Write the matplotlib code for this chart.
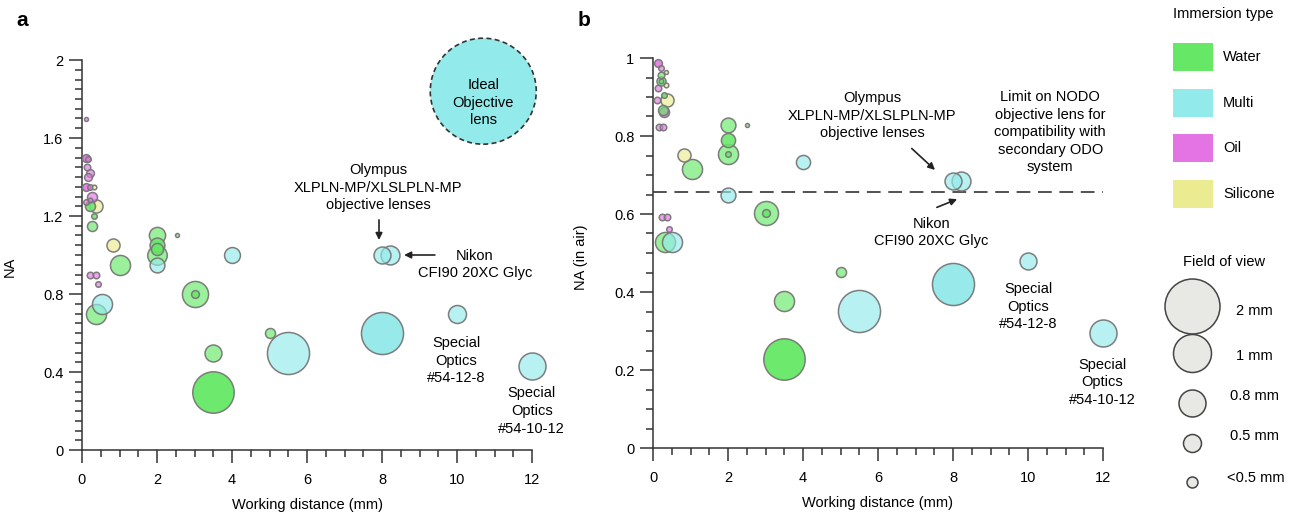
import numpy as np
import matplotlib
matplotlib.use('Agg')
import matplotlib.pyplot as plt
from matplotlib.colors import to_rgba
from matplotlib.patches import Rectangle

plt.rcParams['font.family'] = ['Liberation Sans', 'DejaVu Sans']
plt.rcParams['font.size'] = 10.5

colors = {'W': '#66e866', 'M': '#93eaea', 'O': '#e474e4', 'S': '#ebeb91'}
immersion_names = ['Water', 'Multi', 'Oil', 'Silicone']
immersion_keys = ['W', 'M', 'O', 'S']

# panel a: working distance (mm), NA, field of view (mm), immersion, number of lenses
wd_a = [0.1, 0.1, 0.15, 0.12, 0.2, 0.15, 0.1, 0.2, 0.33, 0.26,
        0.2, 0.37, 0.2, 0.1, 0.33, 0.27, 0.82, 1.0, 2.0, 2.0,
        2.0, 2.0, 2.0, 2.52, 4.0, 0.2, 0.37, 0.42, 0.36, 0.52,
        3.0, 3.0, 3.5, 3.5, 5.0, 5.5, 8.0, 8.0, 8.2, 10.0, 12.0]
na_a = [1.70, 1.50, 1.49, 1.45, 1.42, 1.40, 1.35, 1.35, 1.35, 1.30,
        1.28, 1.25, 1.25, 1.27, 1.20, 1.15, 1.05, 0.95, 1.10, 1.05,
        1.03, 1.00, 0.95, 1.10, 1.00, 0.90, 0.90, 0.85, 0.70, 0.75,
        0.80, 0.80, 0.50, 0.30, 0.60, 0.50, 0.60, 1.00, 1.00, 0.70, 0.43]
fov_a = [0.08, 0.2, 0.13, 0.16, 0.2, 0.2, 0.2, 0.13, 0.1, 0.27,
         0.1, 0.36, 0.27, 0.13, 0.13, 0.27, 0.36, 0.57, 0.45, 0.41,
         0.33, 0.55, 0.41, 0.08, 0.44, 0.16, 0.16, 0.13, 0.57, 0.57,
         0.77, 0.2, 0.47, 1.2, 0.27, 1.24, 1.24, 0.47, 0.53, 0.5, 0.8]
imm_a = ['O', 'O', 'O', 'O', 'O', 'O', 'O', 'O', 'S', 'O',
         'O', 'S', 'W', 'O', 'W', 'W', 'S', 'W', 'W', 'W',
         'W', 'W', 'M', 'W', 'M', 'O', 'O', 'O', 'W', 'M',
         'W', 'W', 'W', 'W', 'W', 'M', 'M', 'M', 'M', 'M', 'M']
n_a = [1, 2, 1, 1, 1, 1, 2, 1, 1, 1,
       1, 1, 2, 1, 2, 1, 1, 1, 1, 2,
       2, 1, 1, 1, 1, 1, 1, 1, 1, 1,
       1, 2, 1, 3, 1, 1, 3, 1, 1, 1, 1]

# panel b: NA converted to air
wd_b = [0.14, 0.2, 0.34, 0.2, 0.22, 0.22, 0.34, 0.14, 0.38, 0.28,
        0.1, 0.28, 0.26, 0.15, 0.26, 2.0, 2.0, 2.0, 2.0, 2.5,
        0.83, 1.03, 4.0, 2.0, 3.0, 3.0, 0.23, 0.38, 0.42, 0.32,
        0.5, 5.0, 3.5, 3.5, 5.5, 8.0, 8.0, 8.2, 10.0, 12.0]
na_b = [0.986, 0.975, 0.965, 0.956, 0.94, 0.94, 0.93, 0.922, 0.892, 0.905,
        0.892, 0.862, 0.867, 0.824, 0.824, 0.828, 0.79, 0.754, 0.754, 0.828,
        0.751, 0.715, 0.734, 0.65, 0.603, 0.603, 0.593, 0.593, 0.561, 0.527,
        0.527, 0.452, 0.377, 0.227, 0.352, 0.42, 0.685, 0.685, 0.48, 0.295]
fov_b = [0.2, 0.13, 0.08, 0.16, 0.24, 0.1, 0.1, 0.16, 0.36, 0.13,
         0.16, 0.27, 0.27, 0.16, 0.16, 0.41, 0.39, 0.57, 0.13, 0.08,
         0.36, 0.57, 0.39, 0.41, 0.7, 0.2, 0.16, 0.16, 0.13, 0.57,
         0.57, 0.27, 0.57, 1.2, 1.24, 1.24, 0.47, 0.53, 0.47, 0.8]
imm_b = ['O', 'O', 'S', 'W', 'W', 'W', 'S', 'O', 'S', 'W',
         'O', 'O', 'W', 'O', 'O', 'W', 'W', 'W', 'W', 'W',
         'S', 'W', 'M', 'M', 'W', 'W', 'O', 'O', 'O', 'W',
         'M', 'W', 'W', 'W', 'M', 'M', 'M', 'M', 'M', 'M']
n_b = [2, 1, 1, 1, 1, 2, 1, 1, 1, 2,
       1, 2, 1, 1, 1, 1, 2, 1, 2, 1,
       1, 1, 1, 1, 1, 2, 1, 1, 1, 1,
       1, 1, 1, 3, 1, 3, 1, 1, 1, 1]

ideal_wd, ideal_na = 10.7, 1.84
nodo_limit = 0.657

legend_fov = [2.0, 1.0, 0.8, 0.5, 0.3]
legend_labels = ['2 mm', '1 mm', '0.8 mm', '0.5 mm', '<0.5 mm']

LS = 1.32


def fov_px(f):
    # marker diameter in pixels for a field of view
    return np.interp(f, [0.05, 0.3, 0.5, 0.8, 1.0, 2.0], [3, 11, 18, 27, 38, 55])


def draw_points(ax, wd, na, fov, imm, n):
    order = np.argsort(-np.asarray(fov), kind='stable')
    for i in order:
        d = fov_px(fov[i]) * 0.72
        a = 1 - (1 - 0.65) ** n[i]
        ax.scatter(wd[i], na[i], s=d ** 2, facecolors=[to_rgba(colors[imm[i]], a)],
                   edgecolors=[to_rgba('#777777', 0.95)], linewidths=1.1,
                   clip_on=False, zorder=3)


def style_axes(ax, ymax, ystep):
    ax.set_xlim(0, 12)
    ax.set_ylim(0, ymax)
    for s in ['top', 'right']:
        ax.spines[s].set_visible(False)
    for s in ['left', 'bottom']:
        ax.spines[s].set_linewidth(1.1)
        ax.spines[s].set_color('#333333')
    ax.set_xticks(np.arange(0, 12.01, 2))
    ax.set_xticks(np.arange(0, 12.01, 0.5), minor=True)
    yt = np.round(np.arange(0, ymax + 0.001, ystep), 2)
    ax.set_yticks(yt)
    ax.set_yticks(np.arange(0, ymax + 0.001, 0.05), minor=True)
    ax.set_xticklabels([f'{v:g}' for v in np.arange(0, 12.01, 2)])
    ax.set_yticklabels([f'{v:g}' for v in yt])
    ax.tick_params(which='major', length=9.4, width=1.1, color='#333333', labelsize=10.5)
    ax.tick_params(which='minor', length=5, width=1.1, color='#333333')
    ax.tick_params(axis='x', which='major', pad=7.5)
    ax.tick_params(axis='y', which='major', pad=4)
    ax.set_xlabel('Working distance (mm)', fontsize=10.5)
    ax.xaxis.set_label_coords(0.5, -0.123)


fig = plt.figure(figsize=(12.9, 5.21), dpi=100)
ax1 = fig.add_axes([82 / 1290, 1 - 450 / 521, 450 / 1290, 390 / 521])
ax2 = fig.add_axes([653 / 1290, 1 - 448 / 521, 450 / 1290, 390 / 521])

arrow = dict(arrowstyle='-|>', color='#222222', lw=1.2, mutation_scale=10, shrinkA=0, shrinkB=0)

# ---- panel a
style_axes(ax1, 2.0, 0.4)
ax1.set_ylabel('NA', fontsize=10.5)
ax1.yaxis.set_label_coords(-0.144, 0.47)
draw_points(ax1, wd_a, na_a, fov_a, imm_a, n_a)
ax1.scatter(ideal_wd, ideal_na, s=(106 * 0.72) ** 2, facecolors=colors['M'],
            edgecolors='#333333', linewidths=1.2, linestyles=(0, (3, 2)), clip_on=False, zorder=3)
ax1.text(ideal_wd, 1.78, 'Ideal\nObjective\nlens', ha='center', va='center', linespacing=LS, zorder=4)
ax1.text(7.89, 1.346, 'Olympus\nXLPLN-MP/XLSLPLN-MP\nobjective lenses', ha='center', va='center', linespacing=LS)
ax1.annotate('', xy=(7.92, 1.077), xytext=(7.92, 1.18), arrowprops=arrow)
ax1.text(10.48, 0.952, 'Nikon\nCFI90 20XC Glyc', ha='center', va='center', linespacing=LS)
ax1.annotate('', xy=(8.59, 1.0), xytext=(9.41, 1.0), arrowprops=arrow)
ax1.text(9.99, 0.458, 'Special\nOptics\n#54-12-8', ha='center', va='center', linespacing=LS)
ax1.text(11.99, 0.2, 'Special\nOptics\n#54-10-12', ha='center', va='center', linespacing=LS)

# ---- panel b
style_axes(ax2, 1.0, 0.2)
ax2.set_ylabel('NA (in air)', fontsize=10.5)
ax2.yaxis.set_label_coords(-0.144, 0.49)
ax2.plot([0, 12], [nodo_limit, nodo_limit], color='#222222', lw=1.1, dashes=(9, 5), zorder=2)
draw_points(ax2, wd_b, na_b, fov_b, imm_b, n_b)
ax2.text(5.84, 0.852, 'Olympus\nXLPLN-MP/XLSLPLN-MP\nobjective lenses', ha='center', va='center', linespacing=LS)
ax2.annotate('', xy=(7.52, 0.713), xytext=(6.9, 0.768), arrowprops=arrow)
ax2.text(10.59, 0.81, 'Limit on NODO\nobjective lens for\ncompatibility with\nsecondary ODO\nsystem',
         ha='center', va='center', linespacing=LS)
ax2.text(7.43, 0.553, 'Nikon\nCFI90 20XC Glyc', ha='center', va='center', linespacing=LS)
ax2.annotate('', xy=(8.11, 0.638), xytext=(7.57, 0.617), arrowprops=arrow)
ax2.text(10.0, 0.362, 'Special\nOptics\n#54-12-8', ha='center', va='center', linespacing=LS)
ax2.text(11.98, 0.168, 'Special\nOptics\n#54-10-12', ha='center', va='center', linespacing=LS)

fig.text(22 / 1290, 1 - 20 / 521, 'a', fontsize=15, fontweight='bold', ha='center', va='center')
fig.text(584 / 1290, 1 - 20 / 521, 'b', fontsize=15, fontweight='bold', ha='center', va='center')

# ---- legends (drawn in pixel coordinates)
lg = fig.add_axes([1150 / 1290, 0, 140 / 1290, 1])
lg.set_xlim(1150, 1290)
lg.set_ylim(521, 0)
lg.axis('off')
lg.text(1223, 14, 'Immersion type', ha='center', va='center', fontsize=10.5)
for k, (key, name) in enumerate(zip(immersion_keys, immersion_names)):
    yc = 57 + k * 45.7
    lg.add_patch(Rectangle((1173, yc - 14), 40, 28, facecolor=colors[key], edgecolor='none'))
    lg.text(1223, yc, name, ha='left', va='center', fontsize=10.5)

lg.text(1224, 262, 'Field of view', ha='center', va='center', fontsize=10.5)
leg_y = [306, 353, 403, 443, 482]
lab_y = [311, 356, 396, 436, 478]
lab_x = [1236, 1236, 1230, 1230, 1227]
for f, lab, yc, ly, lx in zip(legend_fov, legend_labels, leg_y, lab_y, lab_x):
    lg.scatter(1192, yc, s=(fov_px(f) * 0.72) ** 2, facecolors='#e8e8e4',
               edgecolors='#444444', linewidths=1.1, clip_on=False)
    lg.text(lx, ly, lab, ha='left', va='center', fontsize=10.5)

fig.savefig('out.png', dpi=100)
